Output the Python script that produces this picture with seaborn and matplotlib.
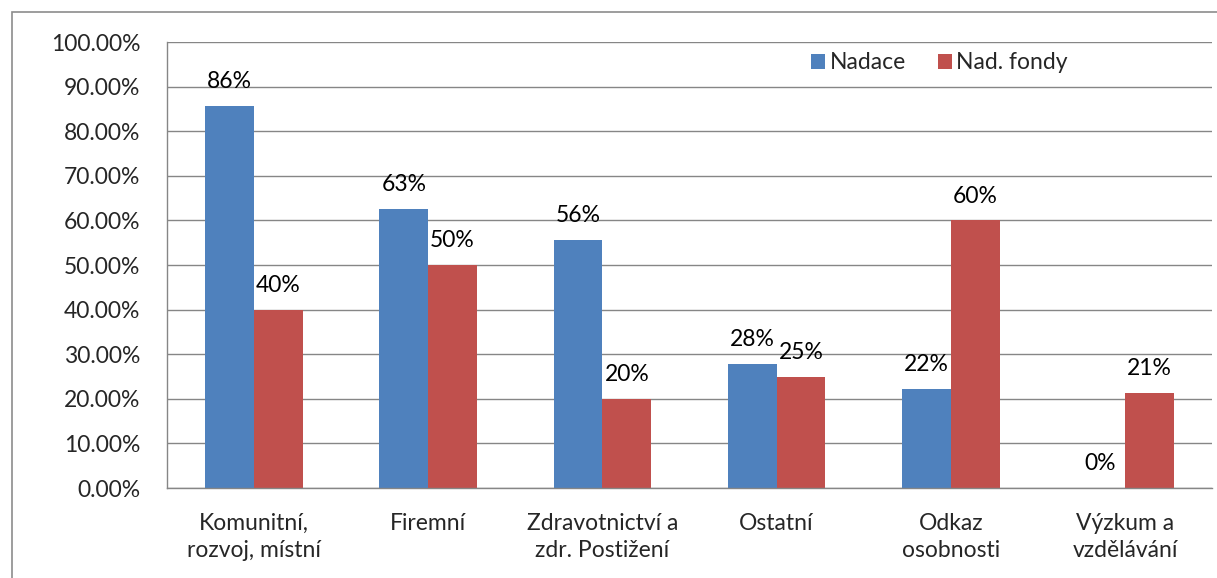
import pandas as pd
import matplotlib.pyplot as plt
import seaborn as sns
from matplotlib.ticker import PercentFormatter
from matplotlib.patches import Rectangle

# values
categories = ['Komunitní,\nrozvoj, místní', 'Firemní', 'Zdravotnictví a\nzdr. Postižení',
              'Ostatní', 'Odkaz\nosobnosti', 'Výzkum a\nvzdělávání']
nadace = [0.857, 0.626, 0.556, 0.278, 0.222, 0.0]
fondy = [0.40, 0.50, 0.20, 0.25, 0.60, 0.214]
series = ['Nadace', 'Nad. fondy']
colors = ['#4F81BD', '#C0504D']

df = pd.DataFrame({
    'kategorie': categories * 2,
    'podil': nadace + fondy,
    'typ': [series[0]] * len(categories) + [series[1]] * len(categories),
})

sns.set_theme(style="white")
plt.rcParams['font.family'] = ['Lato', 'DejaVu Sans']
grid_col = '#868686'
fs = 16.5

fig = plt.figure(figsize=(12.17, 5.78), dpi=100)
ax = fig.add_axes([0.1372, 0.1557, 0.8587, 0.7716])

sns.barplot(data=df, x='kategorie', y='podil', hue='typ', palette=colors,
            width=0.56, gap=0, saturation=1, linewidth=0, ax=ax, errorbar=None)

for cont in ax.containers:
    vals = [b.get_height() for b in cont]
    ax.bar_label(cont, labels=[f'{v:.0%}' for v in vals], padding=10,
                 fontsize=fs, color='black')

ax.set_ylim(0, 1)
ax.set_xlim(-0.5, len(categories) - 0.5)
ax.yaxis.set_major_locator(plt.MultipleLocator(0.1))
ax.yaxis.set_major_formatter(PercentFormatter(1, decimals=2))
ax.set_xticks([i + 0.5 for i in range(-1, len(categories))], minor=True)
ax.tick_params(axis='x', which='major', length=0, pad=18, labelsize=fs)
ax.tick_params(axis='x', which='minor', length=7, width=1, color=grid_col, direction='out')
ax.tick_params(axis='y', length=7, width=1, color=grid_col, direction='out', pad=12, labelsize=fs)
for lab in ax.get_xticklabels():
    lab.set_linespacing(1.35)
ax.set_xlabel('')
ax.set_ylabel('')

ax.yaxis.grid(True, color=grid_col, linewidth=1)
ax.set_axisbelow(True)
for s in ['top', 'right']:
    ax.spines[s].set_visible(False)
for s in ['left', 'bottom']:
    ax.spines[s].set_color(grid_col)
    ax.spines[s].set_linewidth(1)

ax.legend(loc='center left', bbox_to_anchor=(0.597, 0.953), ncol=2, frameon=False,
          fontsize=fs, handlelength=0.6, handleheight=0.6, handletextpad=0.2,
          columnspacing=1.4, title=None)

# outer chart border
fig.patches.append(Rectangle((0.0099, -0.05), 1.2, 1.0292, transform=fig.transFigure,
                             fill=False, edgecolor='#8c8c8c', linewidth=1.2))

fig.savefig('out.png', dpi=100)
